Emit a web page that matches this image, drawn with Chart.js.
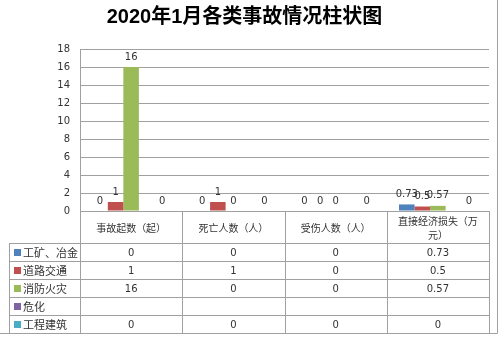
<!DOCTYPE html>
<html>
<head>
<meta charset="utf-8">
<script src="https://cdn.jsdelivr.net/npm/chart.js@4"></script>
<style>
  body { margin: 0; background: #fff; }
</style>
</head>
<body>
<canvas id="accidentChart" width="500" height="339"></canvas>
<script>
const chartTitle = '2020年1月各类事故情况柱状图';
const categories = ['事故起数（起）', '死亡人数（人）', '受伤人数（人）', '直接经济损失（万元）'];
const seriesNames = ['工矿、冶金', '道路交通', '消防火灾', '危化', '工程建筑'];
const mining = [0, 0, 0, 0.73];
const road = [1, 1, 0, 0.5];
const fire = [16, 0, 0, 0.57];
const hazchem = [null, null, null, null];
const construction = [0, 0, 0, 0];
const yTicks = [0, 2, 4, 6, 8, 10, 12, 14, 16, 18];

const seriesColors = ['#4F81BD', '#C0504D', '#9BBB59', '#8064A2', '#4BACC6'];
const seriesValues = [mining, road, fire, hazchem, construction];

const textColor = '#333333';
const lineColor = '#a0a0a0';
const numFont = '"DejaVu Sans", "Noto Sans CJK SC", sans-serif';
const cjkFont = '"Noto Sans CJK SC", "DejaVu Sans", sans-serif';

// split long category names over two lines, like the spreadsheet does
function wrapLabel(s) {
    return s.length > 8 ? [s.slice(0, 8), s.slice(8)] : s;
}

// value labels above each bar
const valueLabels = {
    id: 'valueLabels',
    afterDatasetsDraw(chart) {
        const ctx = chart.ctx;
        ctx.save();
        ctx.font = '10px ' + numFont;
        ctx.fillStyle = textColor;
        ctx.textAlign = 'center';
        ctx.textBaseline = 'middle';
        chart.data.datasets.forEach((ds, i) => {
            chart.getDatasetMeta(i).data.forEach((bar, j) => {
                if (ds.data[j] == null) return;
                ctx.fillText(String(ds.data[j]), bar.x, bar.y - 10);
            });
        });
        ctx.restore();
    }
};

// data table under the x axis
const dataTable = {
    id: 'dataTable',
    afterDraw(chart) {
        const ctx = chart.ctx;
        const x = chart.scales.x;
        const area = chart.chartArea;
        const step = x.getPixelForValue(1) - x.getPixelForValue(0);
        const headerBottom = area.bottom + 32;
        const rowH = 18;
        const tableBottom = headerBottom + rowH * seriesNames.length;
        const legendLeft = 9;

        ctx.save();
        ctx.strokeStyle = lineColor;
        ctx.lineWidth = 1;
        ctx.beginPath();
        // column lines
        for (let i = 0; i <= categories.length; i++) {
            const px = Math.round(x.getPixelForValue(i) - step / 2) + 0.5;
            ctx.moveTo(px, area.bottom);
            ctx.lineTo(px, tableBottom);
        }
        ctx.moveTo(legendLeft + 0.5, headerBottom);
        ctx.lineTo(legendLeft + 0.5, tableBottom);
        // row lines
        for (let r = 0; r <= seriesNames.length; r++) {
            const py = headerBottom + r * rowH + 0.5;
            ctx.moveTo(legendLeft, py);
            ctx.lineTo(area.right, py);
        }
        ctx.stroke();

        // outer frame of the chart object
        ctx.beginPath();
        ctx.moveTo(497.5, 0);
        ctx.lineTo(497.5, 333.5);
        ctx.lineTo(0, 333.5);
        ctx.stroke();

        ctx.textBaseline = 'middle';
        seriesNames.forEach((name, r) => {
            const cy = headerBottom + r * rowH + rowH / 2 + 1;
            ctx.fillStyle = seriesColors[r];
            ctx.fillRect(14, cy - 4, 7, 7);
            ctx.fillStyle = textColor;
            ctx.textAlign = 'left';
            ctx.font = '11px ' + cjkFont;
            ctx.fillText(name, 23, cy);
            ctx.textAlign = 'center';
            ctx.font = '10px ' + numFont;
            seriesValues[r].forEach((v, c) => {
                if (v == null) return;
                ctx.fillText(String(v), x.getPixelForValue(c), cy);
            });
        });
        ctx.restore();
    }
};

new Chart(document.getElementById('accidentChart'), {
    type: 'bar',
    data: {
        labels: categories,
        datasets: seriesNames.map((name, i) => ({
            label: name,
            data: seriesValues[i],
            backgroundColor: seriesColors[i],
            borderWidth: 0,
            categoryPercentage: 0.76,
            barPercentage: 1
        }))
    },
    options: {
        responsive: false,
        animation: false,
        layout: { padding: { left: 0, right: 11, top: 0, bottom: 0 } },
        plugins: {
            legend: { display: false },
            tooltip: { enabled: false },
            title: {
                display: true,
                text: chartTitle,
                color: '#000',
                font: { family: '"Liberation Sans", "Noto Sans CJK SC", sans-serif', size: 20, weight: 'bold', lineHeight: 1.2 },
                padding: { top: 5, bottom: 20 }
            }
        },
        scales: {
            x: {
                afterFit: scale => { scale.height = 128; },
                grid: { display: false },
                border: { display: true, color: lineColor },
                ticks: {
                    color: textColor,
                    font: { family: cjkFont, size: 10, lineHeight: 1.4 },
                    padding: 2,
                    crossAlign: 'center',
                    maxRotation: 0,
                    autoSkip: false,
                    callback: (v, i) => wrapLabel(categories[i])
                }
            },
            y: {
                min: 0,
                max: 18,
                afterFit: scale => { scale.width = 80; },
                afterBuildTicks: scale => { scale.ticks = yTicks.map(v => ({ value: v })); },
                grid: { color: lineColor, drawTicks: false },
                border: { display: true, color: lineColor },
                ticks: {
                    color: textColor,
                    font: { family: numFont, size: 10 },
                    padding: 10
                }
            }
        }
    },
    plugins: [valueLabels, dataTable]
});
</script>
</body>
</html>
